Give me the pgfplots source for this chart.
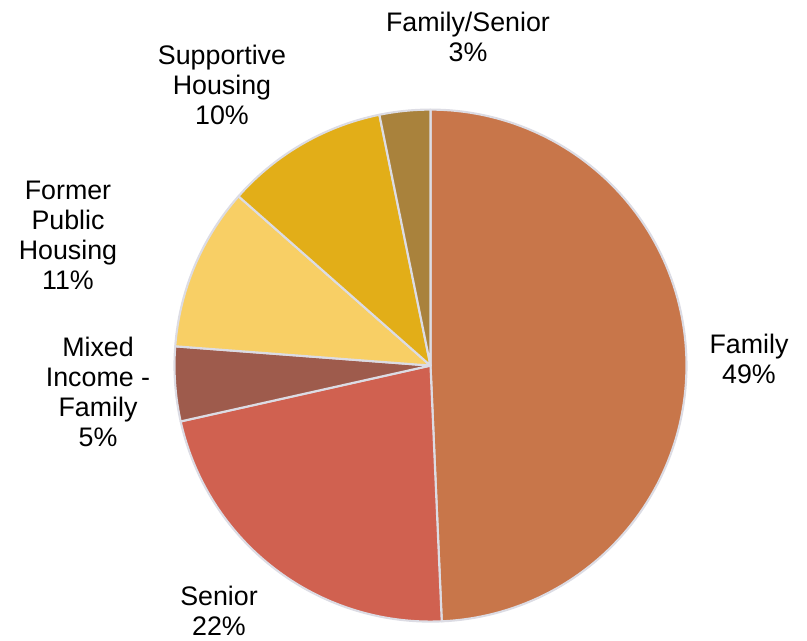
\documentclass[border=0pt]{standalone}
\usepackage{fontspec}
\setmainfont{Liberation Sans}
\usepackage{pgfplots}
\usepackage{pgfplotstable}
\pgfplotsset{compat=1.18}

\definecolor{cFam}{HTML}{C8764A}
\definecolor{cSen}{HTML}{D06150}
\definecolor{cMix}{HTML}{9E5B4C}
\definecolor{cFor}{HTML}{F8CF65}
\definecolor{cSup}{HTML}{E2AE18}
\definecolor{cFS}{HTML}{A9823C}
\definecolor{edge}{HTML}{DCDCE4}

\tikzset{
  slice/.style={draw=edge, line width=1.6pt, line join=round},
  lbl/.style={align=center, font=\fontsize{20.1}{22.5}\selectfont, inner sep=0pt},
}

% share of each category (percent), clockwise from 12 o'clock
\pgfplotstableread{
label value
Family 49.3
Senior 22.2
MixedIncomeFamily 4.7
FormerPublicHousing 10.3
SupportiveHousing 10.3
FamilySenior 3.2
}\piedata

\begin{document}%
\begin{tikzpicture}
\pgfplotstablegetelem{0}{value}\of\piedata \pgfmathsetmacro\aB{90-3.6*\pgfplotsretval}
\pgfplotstablegetelem{1}{value}\of\piedata \pgfmathsetmacro\aC{\aB-3.6*\pgfplotsretval}
\pgfplotstablegetelem{2}{value}\of\piedata \pgfmathsetmacro\aD{\aC-3.6*\pgfplotsretval}
\pgfplotstablegetelem{3}{value}\of\piedata \pgfmathsetmacro\aE{\aD-3.6*\pgfplotsretval}
\pgfplotstablegetelem{4}{value}\of\piedata \pgfmathsetmacro\aF{\aE-3.6*\pgfplotsretval}
\pgfplotstablegetelem{5}{value}\of\piedata \pgfmathsetmacro\aG{\aF-3.6*\pgfplotsretval}
\begin{axis}[
  at={(0,0)}, anchor=south west,
  scale only axis, width=605.25pt, height=480.75pt,
  xmin=0, xmax=807, ymin=0, ymax=641,
  hide axis, clip=false,
  samples=120, variable=\t,
]
\addplot[slice, fill=cFam, domain=\aB:90] ({430.5+256*cos(\t)},{275.4+256*sin(\t)}) -- (axis cs:430.5,275.4) -- cycle;
\addplot[slice, fill=cSen, domain=\aC:\aB] ({430.5+256*cos(\t)},{275.4+256*sin(\t)}) -- (axis cs:430.5,275.4) -- cycle;
\addplot[slice, fill=cMix, domain=\aD:\aC] ({430.5+256*cos(\t)},{275.4+256*sin(\t)}) -- (axis cs:430.5,275.4) -- cycle;
\addplot[slice, fill=cFor, domain=\aE:\aD] ({430.5+256*cos(\t)},{275.4+256*sin(\t)}) -- (axis cs:430.5,275.4) -- cycle;
\addplot[slice, fill=cSup, domain=\aF:\aE] ({430.5+256*cos(\t)},{275.4+256*sin(\t)}) -- (axis cs:430.5,275.4) -- cycle;
\addplot[slice, fill=cFS, domain=\aG:\aF] ({430.5+256*cos(\t)},{275.4+256*sin(\t)}) -- (axis cs:430.5,275.4) -- cycle;

\node[lbl] at (axis cs:749,282) {Family\\49\%};
\node[lbl] at (axis cs:219,30) {Senior\\22\%};
\node[lbl] at (axis cs:98,249) {Mixed\\Income -\\Family\\5\%};
\node[lbl] at (axis cs:68,406) {Former\\Public\\Housing\\11\%};
\node[lbl] at (axis cs:222,556) {Supportive\\Housing\\10\%};
\node[lbl] at (axis cs:468,604) {Family/Senior\\3\%};
\end{axis}
\pgfresetboundingbox
\path (0,0) rectangle (605.25pt,480.75pt);
\end{tikzpicture}%
\end{document}
